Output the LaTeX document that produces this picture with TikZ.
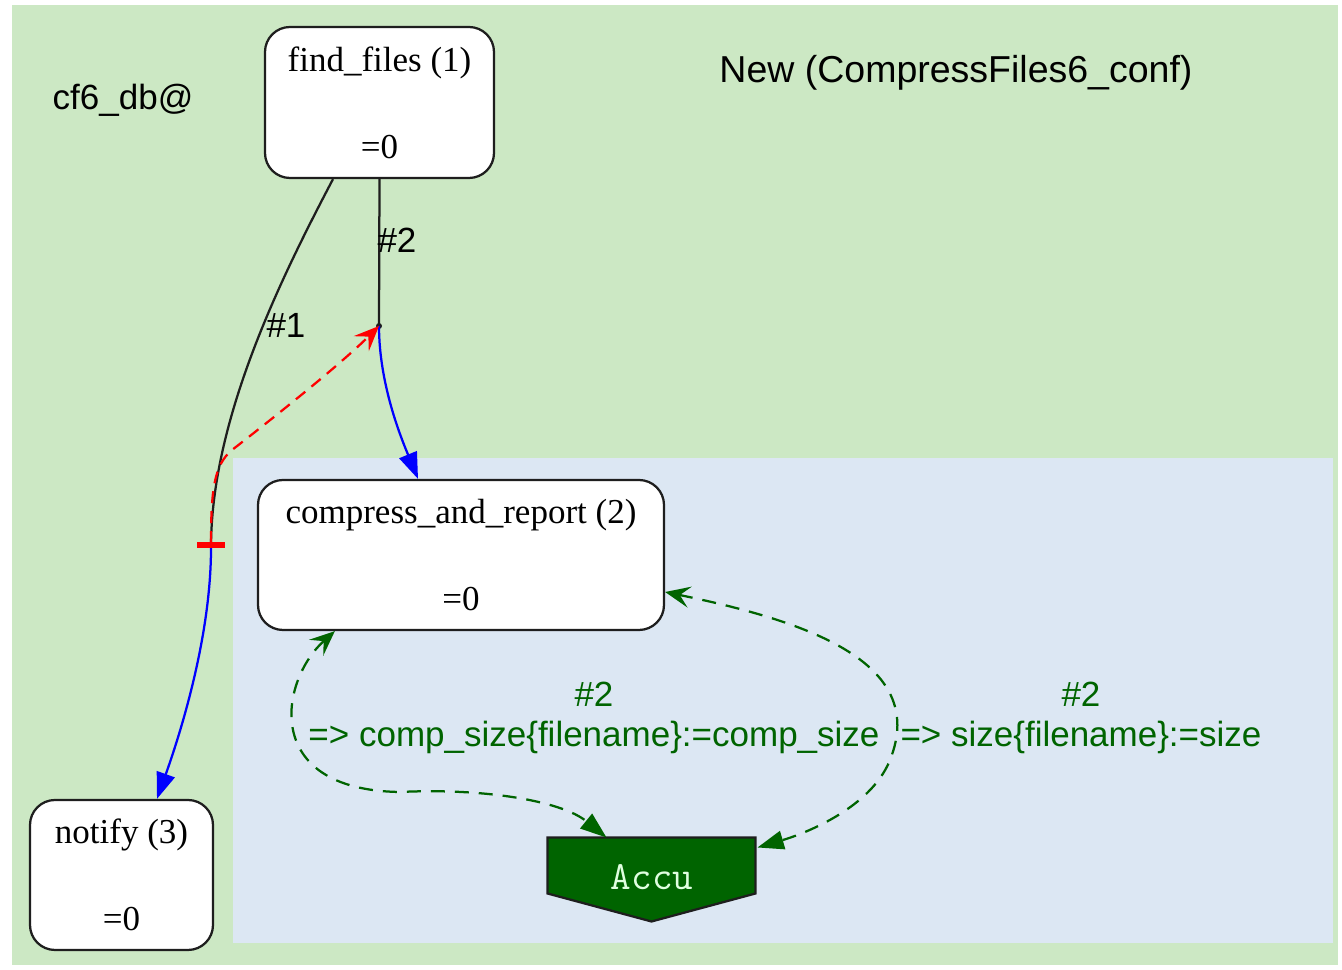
\documentclass[tikz,border=0pt]{standalone}
\usepackage{fontspec}
\setmainfont{Liberation Serif}
\setsansfont{Liberation Sans}
\usetikzlibrary{arrows.meta,calc}

\definecolor{clustergreen}{RGB}{204,232,196}
\definecolor{clusterblue}{RGB}{220,231,243}
\definecolor{edgegreen}{RGB}{0,100,0}
\definecolor{accutext}{RGB}{224,255,224}
\definecolor{nodeline}{RGB}{30,30,30}

\tikzset{
  task/.style={draw=nodeline, line width=0.9pt, fill=white, rounded corners=10pt,
    align=center, inner sep=0pt, font=\fontsize{14}{17.4}\selectfont},
  plainlabel/.style={font=\sffamily\fontsize{14}{16}\selectfont, inner sep=0pt},
  edgelabel/.style={font=\sffamily\fontsize{14}{16}\selectfont, inner sep=0pt, text=black},
  greenlabel/.style={font=\sffamily\fontsize{14}{16}\selectfont, inner sep=0pt,
    text=edgegreen, align=center},
  blackedge/.style={draw=nodeline, line width=0.9pt},
  blueedge/.style={draw=blue, line width=0.9pt, -{Triangle[length=10.5pt,width=7.5pt]}},
  rededge/.style={draw=red, line width=0.9pt, dash pattern=on 4.8pt off 3.2pt,
    {Rectangle[length=2.4pt,width=11pt]}-{Stealth[length=10pt,width=8.5pt,inset=4pt]}},
  greenedge/.style={draw=edgegreen, line width=0.9pt, dash pattern=on 5.6pt off 4pt,
    {Stealth[length=10pt,width=8.5pt,inset=4pt]}-{Triangle[length=10.5pt,width=7.5pt]}},
  accubox/.style={minimum width=82.8pt, minimum height=22pt, inner sep=0pt},
  accufont/.style={font=\ttfamily\fontsize{16}{18}\selectfont, text=accutext, inner sep=0pt},
}

\begin{document}
\begin{tikzpicture}[x=0.4pt,y=-0.4pt]
\useasboundingbox (0,0) rectangle (1342,970);
\fill[white] (0,0) rectangle (1342,970);

% outer cluster and inner cluster
\fill[clustergreen] (12,5) rectangle (1338,965);
\fill[clusterblue] (233,458) rectangle (1333,943);

\node[plainlabel] (dbname) at (123,100) {cf6\_db@};
\node[plainlabel, font=\sffamily\fontsize{15}{17}\selectfont] (title) at (956,73)
  {New (CompressFiles6\_conf)};

% tasks
\node[task, minimum width=91.6pt, minimum height=60.4pt] (ff) at (379.5,102.5)
  {find\_files (1)\\[\baselineskip]=0};
\node[task, minimum width=162.4pt, minimum height=60pt] (cr) at (461,555)
  {compress\_and\_report (2)\\[\baselineskip]=0};
\node[task, minimum width=73.2pt, minimum height=60pt] (notify) at (121.5,875)
  {notify (3)\\[\baselineskip]=0};

% accumulator
\node[accubox] (accu) at (651.5,865.5) {};
\draw[draw=nodeline, line width=0.9pt, fill=edgegreen]
  (accu.north west) -- (accu.north east) -- (accu.south east)
  -- ($(accu.south)+(0,28)$) -- (accu.south west) -- cycle;
\node[accufont] (accutext) at (652,877) {Accu};

% junction points
\coordinate (p2) at (379,326);
\coordinate (p1) at (211,548);
\fill[nodeline] (p2) circle (1.2pt);

% dependency #2
\draw[blackedge] (ff.south) -- (p2);
\node[edgelabel, anchor=west] (l2) at (377,240) {\#2};
\draw[blueedge] (p2) .. controls (379,385) and (402,440) .. ($(cr.north)+(-43,0)$);

% dependency #1
\draw[blackedge] ($(ff.south)+(-46.5,0)$) .. controls (280,280) and (211,420) .. (p1);
\node[edgelabel] (l1) at (286,325) {\#1};
\draw[blueedge] (p1) .. controls (211,640) and (178,740) .. ($(notify.north)+(35.5,0)$);

% ordering between the two dependencies
\draw[rededge] (p1) .. controls (211,490) and (214,465) .. (232,450)
  .. controls (290,405) and (345,360) .. (p2);

% accumulated outputs
\draw[greenedge] ($(cr.south west)+(78,0)$) .. controls (280,680) and (260,790) .. (400,792)
  .. controls (480,788) and (560,800) .. ($(accu.north west)+(59,0)$);
\draw[greenedge] ($(cr.east)+(0,37)$) .. controls (800,620) and (930,660) .. (890,760)
  .. controls (870,810) and (800,835) .. ($(accu.north east)+(2,10)$);

\node[greenlabel] (lab1) at (594,718) {\#2\\=> comp\_size\{filename\}:=comp\_size};
\node[greenlabel] (lab2) at (1081,718) {\#2\\=> size\{filename\}:=size};
\end{tikzpicture}
\end{document}
